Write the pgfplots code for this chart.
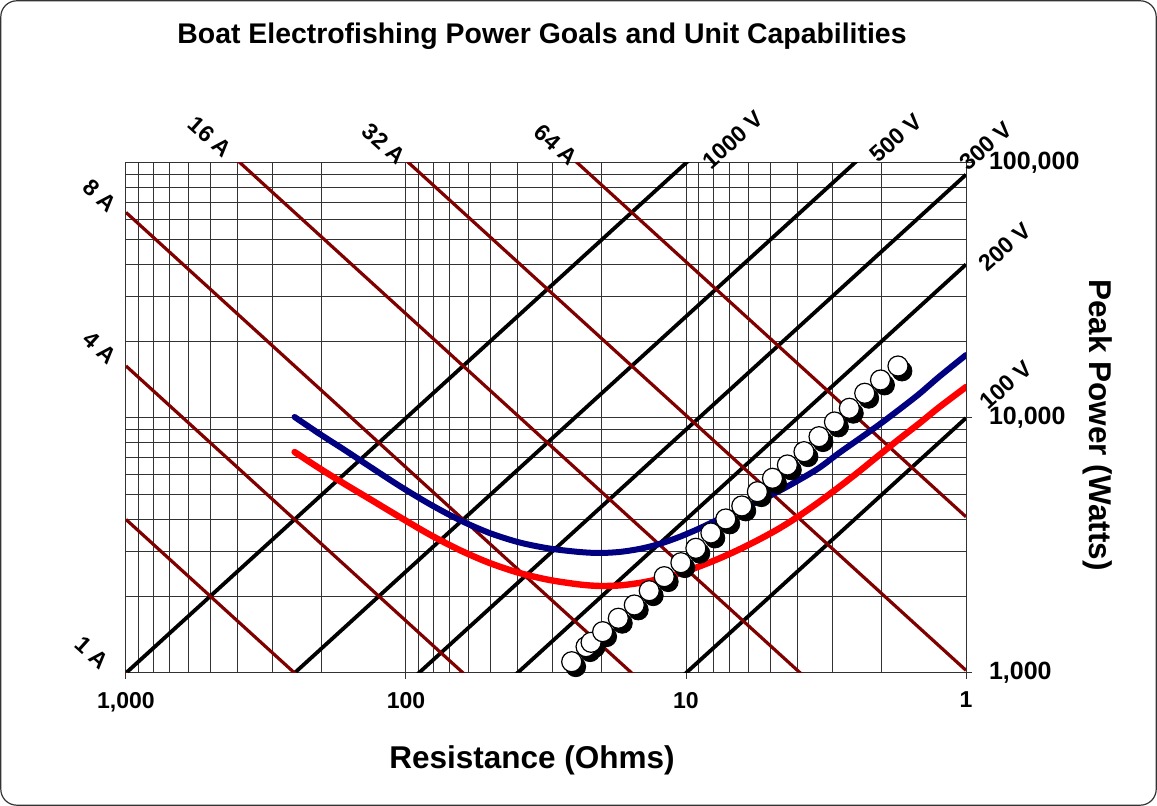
\documentclass[border=0pt]{standalone}
\usepackage{fontspec}
\setmainfont{Liberation Sans}
\usepackage{pgfplots}
\usepackage{pgfplotstable}
\pgfplotsset{compat=1.18}
\definecolor{maroonc}{RGB}{128,0,0}
\definecolor{navyc}{RGB}{0,0,128}
\definecolor{gridc}{RGB}{50,50,50}

\pgfplotstableread{
R P
25.6 1107
22.75 1268
21.83 1319
19.85 1452
17.45 1639
15.30 1848
13.53 2102
11.96 2386
10.43 2707
9.22 3083
8.15 3540
7.21 4018
6.32 4518
5.56 5140
4.91 5800
4.345 6543
3.79 7375
3.35 8447
2.95 9645
2.61 10916
2.30 12500
2.02 14090
1.75 15990
}\pts

\pgfplotstableread{
R Pblue Pred
250 10090 7356
203.3 8656 6339
165.6 7490 5510
134.8 6453 4813
105.4 5412 4091
82.4 4599 3493
64.4 3981 3036
50.3 3540 2700
39.3 3249 2466
30.75 3077 2316
24.04 2982 2224
20.40 2955 2194
17.31 2982 2204
14.69 3064 2254
12.46 3205 2337
10.57 3415 2456
8.97 3687 2616
7.61 4018 2812
6.46 4358 3050
5.48 4727 3339
4.65 5172 3687
3.95 5713 4128
3.35 6367 4684
2.84 7291 5362
2.41 8273 6169
2.05 9387 7128
1.74 10750 8237
1.47 12420 9515
1.25 14480 10995
1 17660 13230
}\goals

\begin{document}
\begin{tikzpicture}
\useasboundingbox (0pt,0pt) rectangle (578.5pt,403pt);
\fill[white] (0pt,0pt) rectangle (578.5pt,403pt);
\draw[black!80, line width=0.6pt, rounded corners=8pt] (0.4pt,0.4pt) rectangle (578.1pt,402.6pt);
\begin{axis}[
  at={(63pt,66.5pt)}, anchor=south west,
  width=420pt, height=255pt, scale only axis,
  xmode=log, ymode=log, x dir=reverse,
  xmin=1, xmax=1000, ymin=1000, ymax=100000,
  xtick={1,10,100,1000}, xticklabels={1,10,100,{1,000}},
  ytick={1000,10000,100000}, yticklabels={{1,000},{10,000},{100,000}},
  xtick pos=left, ytick pos=right, yticklabel pos=right,
  tick align=outside, major tick length=3pt, minor tick length=0pt,
  grid=both,
  major grid style={gridc, line width=0.5pt},
  minor grid style={gridc, line width=0.5pt},
  axis line style={gridc, line width=0.5pt},
  tick style={gridc, line width=0.5pt},
  xticklabel style={font=\bfseries\fontsize{11.5}{13}\selectfont, yshift=-3pt},
  yticklabel style={font=\bfseries\fontsize{12.5}{14}\selectfont, xshift=5pt},
]
% voltage lines
\addplot[black, line width=1.9pt] coordinates {(1000,1000) (1,1000000)};
\addplot[black, line width=1.9pt] coordinates {(1000,250) (1,250000)};
\addplot[black, line width=1.9pt] coordinates {(1000,90) (1,90000)};
\addplot[black, line width=1.9pt] coordinates {(1000,40) (1,40000)};
\addplot[black, line width=1.9pt] coordinates {(1000,10) (1,10000)};
% current lines
\addplot[maroonc, line width=1.6pt] coordinates {(1000,1000) (1,1)};
\addplot[maroonc, line width=1.6pt] coordinates {(1000,4000) (1,4)};
\addplot[maroonc, line width=1.6pt] coordinates {(1000,16000) (1,16)};
\addplot[maroonc, line width=1.6pt] coordinates {(1000,64000) (1,64)};
\addplot[maroonc, line width=1.6pt] coordinates {(1000,256000) (1,256)};
\addplot[maroonc, line width=1.6pt] coordinates {(1000,1024000) (1,1024)};
\addplot[maroonc, line width=1.6pt] coordinates {(1000,4096000) (1,4096)};
% goal curves
\addplot[navyc, line width=3pt, smooth, line cap=round] table[x=R,y=Pblue] {\goals};
\addplot[red, line width=3.2pt, smooth, line cap=round] table[x=R,y=Pred] {\goals};
% unit capabilities
\addplot[only marks, mark=*, mark size=5pt, mark options={fill=black, draw=black, xshift=2pt, yshift=-2.5pt}] table[x=R,y=P] {\pts};
\addplot[only marks, mark=*, mark size=5pt, mark options={fill=white, draw=black, line width=0.6pt}] table[x=R,y=P] {\pts};
\end{axis}
\tikzset{lab/.style={font=\bfseries\fontsize{11.5}{13}\selectfont, inner sep=0pt}}
\node[lab, rotate=-42] at (105pt,334.5pt) {16 A};
\node[lab, rotate=-42] at (192pt,331pt) {32 A};
\node[lab, rotate=-42] at (278pt,330.5pt) {64 A};
\node[lab, rotate=-42] at (50pt,305pt) {8 A};
\node[lab, rotate=-42] at (50pt,229pt) {4 A};
\node[lab, rotate=-42] at (46pt,76.5pt) {1 A};
\node[lab, rotate=42] at (366.5pt,333pt) {1000 V};
\node[lab, rotate=42] at (448pt,334pt) {500 V};
\node[lab, rotate=42] at (493pt,330pt) {300 V};
\node[lab, rotate=42] at (502.5pt,279.5pt) {200 V};
\node[lab, rotate=42] at (503pt,210.5pt) {100 V};
\node[font=\bfseries\fontsize{14.2}{17}\selectfont] at (271pt,385pt) {Boat Electrofishing Power Goals and Unit Capabilities};
\node[font=\bfseries\fontsize{15.75}{19}\selectfont] at (266pt,23pt) {Resistance (Ohms)};
\node[font=\bfseries\fontsize{15.75}{19}\selectfont, rotate=-90] at (549pt,190.5pt) {Peak Power (Watts)};
\end{tikzpicture}
\end{document}
